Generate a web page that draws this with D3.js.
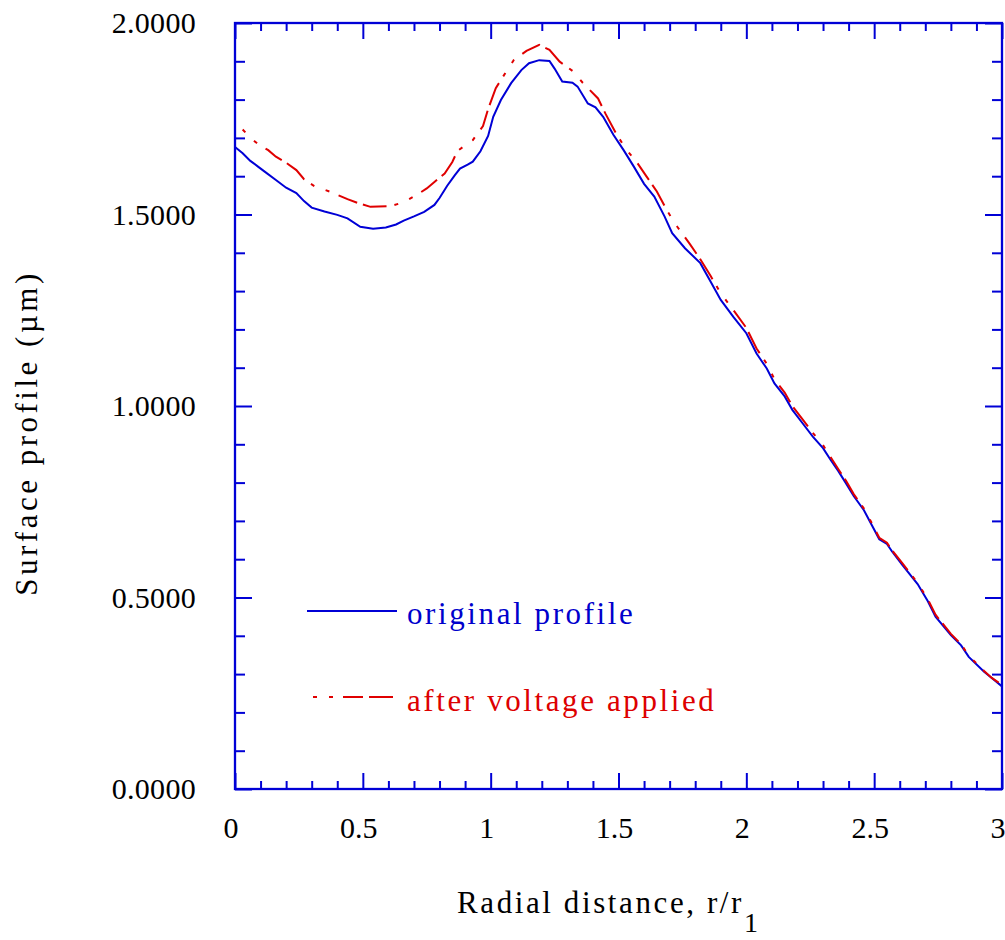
<!DOCTYPE html>
<html>
<head>
<meta charset="utf-8">
<script src="https://d3js.org/d3.v7.min.js"></script>
<style>
  body { margin: 0; background: #fff; }
  text { font-family: "Times New Roman", "Liberation Serif", serif; }
</style>
</head>
<body>
<svg id="chart" width="1005" height="940"></svg>
<script>
// radial distance r/r1 and surface profile (um)
const rOriginal = [0.00,0.03,0.06,0.09,0.12,0.16,0.20,0.24,0.27,0.30,0.35,0.40,0.44,0.49,0.54,0.59,0.63,0.66,0.70,0.74,0.78,0.80,0.83,0.86,0.88,0.91,0.93,0.96,0.99,1.01,1.04,1.08,1.12,1.15,1.19,1.23,1.25,1.28,1.32,1.34,1.38,1.41,1.44,1.48,1.52,1.56,1.60,1.64,1.68,1.71,1.76,1.82,1.86,1.90,1.95,2.00,2.04,2.08,2.11,2.15,2.18,2.22,2.26,2.30,2.33,2.36,2.39,2.42,2.46,2.49,2.52,2.55,2.57,2.61,2.67,2.71,2.74,2.80,2.84,2.87,2.93,2.96,3.00];
const hOriginal = [1.676,1.660,1.640,1.625,1.610,1.590,1.570,1.556,1.535,1.518,1.508,1.499,1.490,1.468,1.463,1.466,1.474,1.484,1.495,1.507,1.525,1.543,1.575,1.603,1.620,1.630,1.638,1.665,1.705,1.755,1.799,1.843,1.877,1.895,1.903,1.901,1.881,1.847,1.844,1.834,1.790,1.780,1.755,1.708,1.668,1.625,1.580,1.547,1.495,1.451,1.412,1.373,1.325,1.277,1.232,1.190,1.137,1.098,1.059,1.025,0.990,0.955,0.920,0.890,0.859,0.830,0.798,0.765,0.728,0.690,0.652,0.640,0.620,0.585,0.535,0.490,0.450,0.402,0.375,0.345,0.306,0.290,0.268];

const rVoltage = [0.03,0.06,0.09,0.13,0.16,0.20,0.24,0.27,0.31,0.37,0.44,0.48,0.53,0.61,0.65,0.68,0.72,0.75,0.78,0.82,0.85,0.87,0.90,0.93,0.97,0.99,1.02,1.06,1.09,1.14,1.19,1.23,1.27,1.32,1.36,1.42,1.45,1.49,1.53,1.57,1.61,1.65,1.69,1.73,1.78,1.82,1.86,1.90,1.95,2.00,2.04,2.08,2.11,2.15,2.18,2.22,2.26,2.30,2.33,2.36,2.39,2.42,2.46,2.49,2.52,2.55,2.57,2.61,2.67,2.71,2.74,2.80,2.84,2.87,2.93,2.96,3.00];
const hVoltage = [1.722,1.700,1.684,1.668,1.651,1.635,1.616,1.592,1.574,1.560,1.540,1.530,1.520,1.522,1.530,1.540,1.555,1.568,1.585,1.607,1.637,1.666,1.680,1.694,1.731,1.775,1.830,1.872,1.903,1.927,1.943,1.930,1.899,1.875,1.844,1.803,1.762,1.712,1.670,1.638,1.599,1.560,1.510,1.468,1.422,1.383,1.340,1.294,1.250,1.204,1.150,1.110,1.070,1.035,1.000,0.965,0.930,0.898,0.866,0.835,0.805,0.770,0.732,0.695,0.656,0.643,0.623,0.590,0.538,0.495,0.455,0.405,0.378,0.348,0.308,0.290,0.272];

const xMajor = [0, 0.5, 1, 1.5, 2, 2.5, 3];
const xLabels = ["0", "0.5", "1", "1.5", "2", "2.5", "3"];
const yMajor = [0, 0.5, 1, 1.5, 2];
const yLabels = ["0.0000", "0.5000", "1.0000", "1.5000", "2.0000"];
const legendNames = ["original profile", "after voltage applied"];

const axisBlue = "#0000d6";
const lineBlue = "#0000d6";
const lineRed = "#e00000";

const svg = d3.select("#chart");
const plotLeft = 235, plotRight = 1002, plotTop = 23, plotBottom = 789;

const x = d3.scaleLinear().domain([0, 3]).range([plotLeft, plotRight]);
const y = d3.scaleLinear().domain([0, 2]).range([plotBottom, plotTop]);

const xMinor = d3.range(0, 31).map(d => d / 10).filter(d => Math.round(d * 10) % 5 !== 0);
const yMinor = d3.range(0, 21).map(d => d / 10).filter(d => Math.round(d * 10) % 5 !== 0);

function drawAxis(g, axis) {
  g.call(axis);
  g.select(".domain").remove();
  g.selectAll(".tick line").attr("stroke", axisBlue).attr("stroke-width", 2);
  g.selectAll(".tick text").remove();
}

// ticks on all four sides, pointing inward
drawAxis(svg.append("g").attr("transform", `translate(0,${plotBottom})`),
  d3.axisBottom(x).tickValues(xMajor).tickSize(-16));
drawAxis(svg.append("g").attr("transform", `translate(0,${plotBottom})`),
  d3.axisBottom(x).tickValues(xMinor).tickSize(-8));
drawAxis(svg.append("g").attr("transform", `translate(0,${plotTop})`),
  d3.axisTop(x).tickValues(xMajor).tickSize(-16));
drawAxis(svg.append("g").attr("transform", `translate(0,${plotTop})`),
  d3.axisTop(x).tickValues(xMinor).tickSize(-8));
drawAxis(svg.append("g").attr("transform", `translate(${plotLeft},0)`),
  d3.axisLeft(y).tickValues(yMajor).tickSize(-17));
drawAxis(svg.append("g").attr("transform", `translate(${plotLeft},0)`),
  d3.axisLeft(y).tickValues(yMinor).tickSize(-10));
drawAxis(svg.append("g").attr("transform", `translate(${plotRight},0)`),
  d3.axisRight(y).tickValues(yMajor).tickSize(-17));
drawAxis(svg.append("g").attr("transform", `translate(${plotRight},0)`),
  d3.axisRight(y).tickValues(yMinor).tickSize(-10));

// frame
svg.append("rect")
  .attr("x", plotLeft).attr("y", plotTop)
  .attr("width", plotRight - plotLeft).attr("height", plotBottom - plotTop)
  .attr("fill", "none").attr("stroke", axisBlue).attr("stroke-width", 2.3);

// tick labels
svg.append("g").selectAll("text").data(xMajor).join("text")
  .attr("x", d => x(d) - 4)
  .attr("y", 838)
  .attr("text-anchor", "middle")
  .attr("font-size", 30)
  .text((d, i) => xLabels[i]);

svg.append("g").selectAll("text").data(yMajor).join("text")
  .attr("x", 196)
  .attr("y", d => y(d) + 10)
  .attr("text-anchor", "end")
  .attr("font-size", 30)
  .attr("letter-spacing", 0.3)
  .text((d, i) => yLabels[i]);

// axis titles
const xt = svg.append("text")
  .attr("x", 457).attr("y", 913)
  .attr("font-size", 31)
  .attr("letter-spacing", 2.6);
xt.append("tspan").text("Radial distance, r/r");
xt.append("tspan").attr("dy", 19).attr("font-size", 28).text("1");

svg.append("text")
  .attr("transform", "translate(37,433) rotate(-90)")
  .attr("text-anchor", "middle")
  .attr("font-size", 31)
  .attr("letter-spacing", 3.5)
  .text("Surface profile (\u00b5m)");

// curves
const line = d3.line().x(d => x(d[0])).y(d => y(d[1]));
const original = d3.zip(rOriginal, hOriginal);
const voltage = d3.zip(rVoltage, hVoltage);

svg.append("path")
  .datum(original)
  .attr("d", line)
  .attr("fill", "none")
  .attr("stroke", lineBlue)
  .attr("stroke-width", 2);

const redDash = "4,12,4,10,20,6,24,8";
svg.append("path")
  .datum(voltage)
  .attr("d", line)
  .attr("fill", "none")
  .attr("stroke", lineRed)
  .attr("stroke-width", 2)
  .attr("stroke-dasharray", redDash);

// legend
const legend = [
  { y: 611, x1: 307, x2: 397, color: lineBlue, dash: null, textColor: "#0000cc", ty: 624 },
  { y: 697, x1: 313, x2: 394, color: lineRed, dash: "4,12,4,10,20,6,24", textColor: "#dd0000", ty: 711 }
];
legend.forEach((d, i) => {
  svg.append("line")
    .attr("x1", d.x1).attr("x2", d.x2)
    .attr("y1", d.y).attr("y2", d.y)
    .attr("stroke", d.color)
    .attr("stroke-width", 2)
    .attr("stroke-dasharray", d.dash);
  svg.append("text")
    .attr("x", 407).attr("y", d.ty)
    .attr("font-size", 31)
    .attr("letter-spacing", 2.6)
    .attr("fill", d.textColor)
    .text(legendNames[i]);
});
</script>
</body>
</html>
